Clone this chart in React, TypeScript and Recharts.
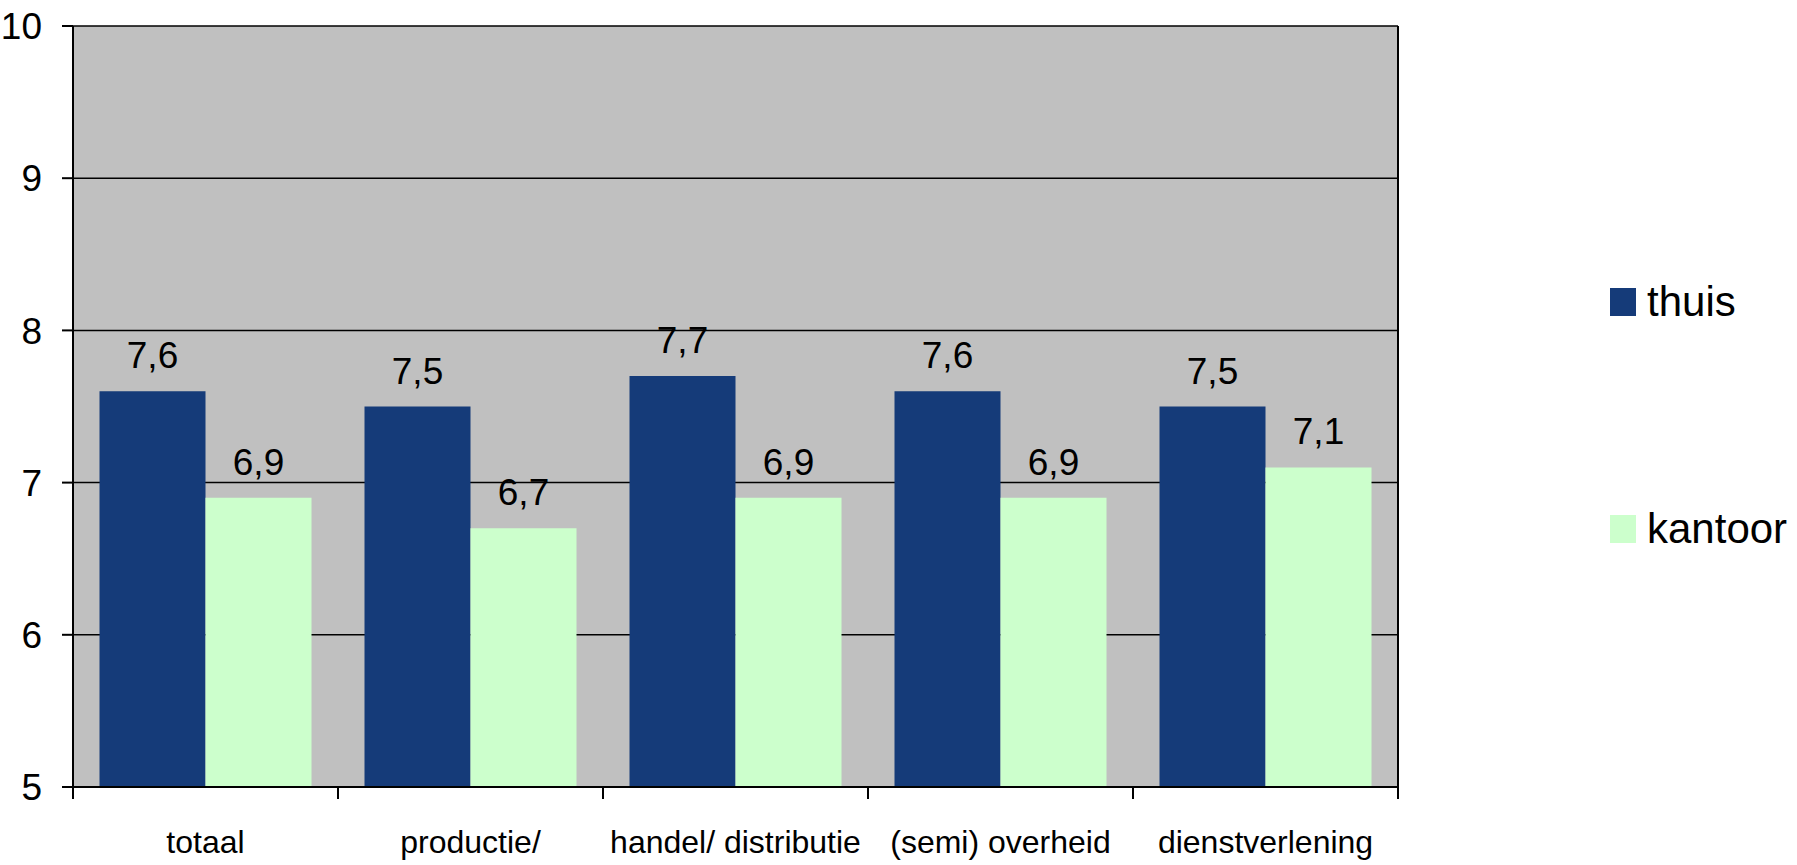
import React from "react";
import { BarChart, Bar, XAxis, YAxis, CartesianGrid, Legend, LabelList } from "recharts";

const categories = ["totaal", "productie/", "handel/ distributie", "(semi) overheid", "dienstverlening"];
const thuis = [7.6, 7.5, 7.7, 7.6, 7.5];
const kantoor = [6.9, 6.7, 6.9, 6.9, 7.1];
const yTicks = [5, 6, 7, 8, 9, 10];

const data = categories.map((name, i) => ({ name, thuis: thuis[i], kantoor: kantoor[i] }));

const W = 1797;
const H = 865;
const PLOT_L = 73;
const PLOT_R = 1398;
const PLOT_B = 787;
const LEG_W = 180;
const BAND = (PLOT_R - PLOT_L) / categories.length;

const fmtNl = (v: any) => Number(v).toFixed(1).replace(".", ",");

const CatTick = ({ x, y, payload, index }: any) => {
  const left = x - BAND / 2;
  return (
    <g>
      <line x1={left} x2={left} y1={y} y2={y + 12} stroke="#000" strokeWidth={2} />
      {index === categories.length - 1 && (
        <line x1={left + BAND} x2={left + BAND} y1={y} y2={y + 12} stroke="#000" strokeWidth={2} />
      )}
      <text x={x} y={y + 66} textAnchor="middle" fontSize={32} fill="#000" fontFamily="Liberation Sans, Arial, sans-serif">
        {payload.value}
      </text>
    </g>
  );
};

const LegendBox = () => (
  <div style={{ fontFamily: "Liberation Sans, Arial, sans-serif", fontSize: 42, color: "#000" }}>
    {[
      { label: "thuis", color: "#153B79" },
      { label: "kantoor", color: "#CCFFCC" },
    ].map((it, i) => (
      <div key={it.label} style={{ display: "flex", alignItems: "center", height: 40, marginBottom: i === 0 ? 187 : 0 }}>
        <span style={{ width: 26, height: 28, background: it.color, display: "inline-block", marginRight: 11 }} />
        <span style={{ lineHeight: "40px" }}>{it.label}</span>
      </div>
    ))}
  </div>
);

export default function App() {
  return (
    <div style={{ position: "absolute", left: 0, top: 0, width: W, height: H, background: "#fff" }}>
      <BarChart
        width={W}
        height={H}
        data={data}
        margin={{ top: 26, right: W - PLOT_R - LEG_W, bottom: 0, left: 0 }}
        barCategoryGap="10%"
        barGap={0}
        style={{ fontFamily: "Liberation Sans, Arial, sans-serif" }}
      >
        <CartesianGrid vertical={false} stroke="#000" strokeWidth={1.5} fill="#C0C0C0" fillOpacity={1} />
        <XAxis
          dataKey="name"
          height={H - PLOT_B}
          axisLine={{ stroke: "#000", strokeWidth: 2 }}
          tickLine={false}
          tickSize={0}
          tickMargin={0}
          tick={<CatTick />}
          interval={0}
        />
        <YAxis
          width={PLOT_L}
          domain={[5, 10]}
          ticks={yTicks}
          allowDataOverflow
          axisLine={{ stroke: "#000", strokeWidth: 2 }}
          tickLine={{ stroke: "#000", strokeWidth: 2 }}
          tickSize={11}
          tickMargin={20}
          tick={{ fill: "#000", fontSize: 37 }}
        />
        <Legend
          layout="horizontal"
          verticalAlign="middle"
          align="right"
          content={<LegendBox />}
          wrapperStyle={{ left: 1610, top: 282, width: LEG_W }}
        />
        <Bar dataKey="thuis" name="thuis" fill="#153B79" isAnimationActive={false}>
          <LabelList dataKey="thuis" position="top" offset={23} formatter={fmtNl} fill="#000" fontSize={37} />
        </Bar>
        <Bar dataKey="kantoor" name="kantoor" fill="#CCFFCC" isAnimationActive={false}>
          <LabelList dataKey="kantoor" position="top" offset={23} formatter={fmtNl} fill="#000" fontSize={37} />
        </Bar>
      </BarChart>
      <div
        style={{
          position: "absolute",
          left: PLOT_R - 1,
          top: 26,
          width: 2,
          height: PLOT_B - 26,
          background: "#000",
        }}
      />
    </div>
  );
}
